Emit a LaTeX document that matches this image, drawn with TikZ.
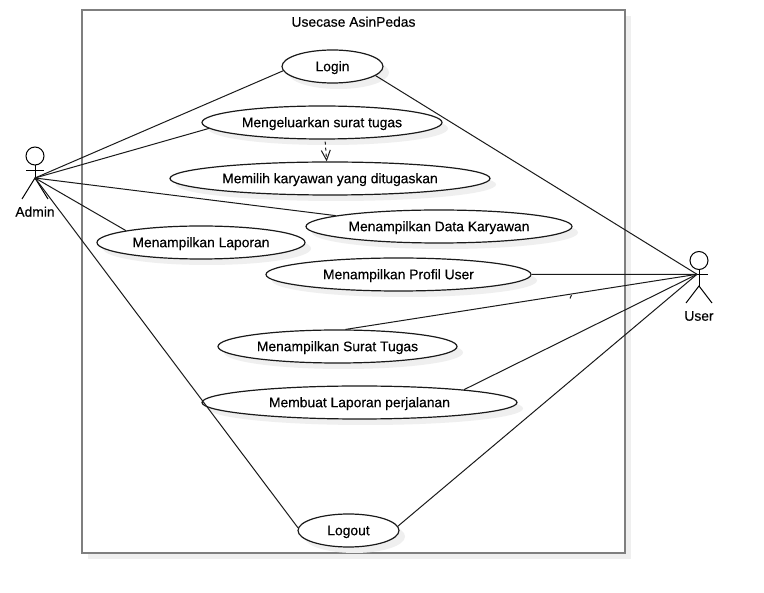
\documentclass[tikz,border=0pt]{standalone}
\usepackage{fontspec}
\setmainfont{Liberation Sans}[FakeBold=0.25]
\usetikzlibrary{shapes.geometric,shadows,arrows.meta}
\definecolor{framegray}{HTML}{7F7F7F}
\definecolor{shadowgray}{HTML}{EFEFEF}
\definecolor{inkline}{HTML}{1A1A1A}
\tikzset{
  softshadow/.style={general shadow={shadow xshift=6pt,shadow yshift=-6pt,fill=shadowgray}},
  sysframe/.style={draw=framegray,line width=2pt,fill=white,rectangle,minimum width=543pt,minimum height=543pt,inner sep=0pt,softshadow},
  usecase/.style={ellipse,draw=inkline,line width=1.2pt,fill=white,inner sep=0pt,softshadow,font=\fontsize{13.85}{16}\selectfont,text=black,text height=12.4pt,text depth=3pt},
  label/.style={font=\fontsize{13.85}{16}\selectfont,text=black,inner sep=0pt,text height=12.4pt,text depth=3pt},
  assoc/.style={draw=inkline,line width=1pt},
  actorline/.style={draw=black,line width=1pt},
  actorhead/.style={circle,draw=black,line width=1pt,fill=white,minimum size=18pt,inner sep=0pt},
  depend/.style={draw=inkline,line width=1pt,dash pattern=on 3pt off 3pt,shorten <=2pt,-{Straight Barb[length=10pt,width=9pt,line width=1pt,sep=0pt]}},
}
\begin{document}
\begin{tikzpicture}[x=1pt,y=-1pt]
\useasboundingbox (0,0) rectangle (764,593);
\fill[white] (0,0) rectangle (764,593);
\node[sysframe] (frame) at (353.5,281.5) {};
\node[label] (title) at (353.5,22) {Usecase AsinPedas};
\node[usecase,minimum width=101pt,minimum height=33pt] (login) at (332.5,66.5) {Login};
\node[usecase,minimum width=240pt,minimum height=33pt] (surat) at (322,122.5) {Mengeluarkan surat tugas};
\node[usecase,minimum width=320pt,minimum height=33pt] (pilih) at (330,178.5) {Memilih karyawan yang ditugaskan};
\node[usecase,minimum width=266pt,minimum height=33pt] (data) at (439,226.5) {Menampilkan Data Karyawan};
\node[usecase,minimum width=208pt,minimum height=33pt] (lapor) at (201,242.5) {Menampilkan Laporan};
\node[usecase,minimum width=265pt,minimum height=33pt] (profil) at (398.5,274.5) {Menampilkan Profil User};
\node[usecase,minimum width=239pt,minimum height=33pt] (tugas) at (337.5,346.5) {Menampilkan Surat Tugas};
\node[usecase,minimum width=315pt,minimum height=33pt] (jalan) at (359.5,402.5) {Membuat Laporan perjalanan};
\node[usecase,minimum width=101pt,minimum height=33pt] (logout) at (348.5,530.5) {Logout};
% actors
\node[actorhead] (adminhead) at (35,156) {};
\coordinate (adminhub) at (35,178);
\draw[actorline] (adminhead.south) -- (adminhub);
\draw[actorline] (26,171) -- (44,171);
\draw[actorline] (22,199) -- (adminhub) -- (48,199);
\node[label] (adminlabel) at (35,212) {Admin};
\node[actorhead] (userhead) at (699,260.5) {};
\coordinate (userhub) at (699,286);
\coordinate (userhand) at (697,274.3);
\draw[actorline] (userhead.south) -- (userhub);
\draw[actorline] (690,274.5) -- (708,274.5);
\draw[actorline] (686,303) -- (userhub) -- (712,303);
\node[label] (userlabel) at (699,316) {User};
% connectors
\draw[assoc] (adminhub) -- (login.185);
\draw[assoc] (adminhub) -- (surat.183.2);
\draw[assoc] (adminhub) -- (data.174.9);
\draw[assoc] (adminhub) -- (lapor.171.2);
\draw[assoc] (adminhub) -- (logout.177);
\draw[assoc] (userhand) -- (login.348.7);
\draw[assoc] (userhand) -- (profil.east);
\draw[assoc] (userhand) -- (tugas.65.6);
\draw[assoc] (userhand) -- (jalan.7.3);
\draw[assoc] (userhand) -- (logout.5);
\draw[depend] (surat.280) -- (pilih.101.3);
\draw[draw=inkline,line width=1pt] (571.5,295) -- (570,298.5);
\end{tikzpicture}
\end{document}
